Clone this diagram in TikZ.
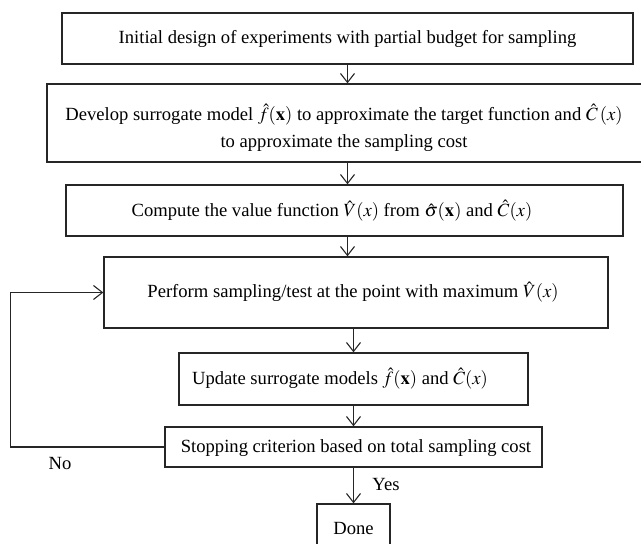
\documentclass[tikz,border=0pt]{standalone}
\usepackage{mathptmx}
\usepackage{fontspec}
\setmainfont{Liberation Serif}
\usetikzlibrary{arrows.meta}
\begin{document}
\begin{tikzpicture}[x=1pt,y=-1pt,
  box/.style 2 args={draw=black!85, line width=1.3pt, minimum width=#1, minimum height=#2, inner sep=0pt},
  txt/.style={font=\fontsize{18.6}{27}\selectfont, inner sep=0pt, align=center},
  arr/.style={draw=black!85, line width=1.1pt, -{Straight Barb[length=9pt,width=14pt,line width=1.1pt]}}
]
\useasboundingbox (0,0) rectangle (641,544);
\begin{scope}
\clip (0,0) rectangle (641,544);
\node[box={571pt}{51pt}] (b1) at (347.5,38.5) {};
\node[box={595pt}{78pt}] (b2) at (344.5,123) {};
\node[box={557pt}{51pt}] (b3) at (344.5,210.5) {};
\node[box={504pt}{71pt}] (b4) at (356,292.5) {};
\node[box={349pt}{52pt}] (b5) at (353.5,379) {};
\node[box={377pt}{40pt}] (b6) at (353.5,447) {};
\node[box={73pt}{48pt}] (b7) at (353.5,528) {};
\end{scope}

\node[txt] (t1) at (347.5,38.5) {Initial design of experiments with partial budget for sampling};
\node[txt] (t2) at (344,127.5) {Develop surrogate model $\hat{f}(\mathbf{x})$ to approximate the target function and $\hat{C}\,(x)$\\to approximate the sampling cost};
\node[txt] (t3) at (332,211) {Compute the value function $\hat{V}(x)$ from $\hat{\sigma}(\mathbf{x})$ and $\hat{C}(x)$};
\node[txt] (t4) at (353,292) {Perform sampling/test at the point with maximum $\hat{V}(x)$};
\node[txt] (t5) at (340,379) {Update surrogate models $\hat{f}(\mathbf{x})$ and $\hat{C}(x)$};
\node[txt] (t6) at (356,448) {Stopping criterion based on total sampling cost};
\node[txt] (t7) at (353.5,528) {Done};
\node[txt] (no) at (60,463) {No};
\node[txt] (yes) at (386,484) {Yes};

\draw[arr] (b1.south) -- (b1.south |- b2.north);
\draw[arr] (b1.south |- b2.south) -- (b1.south |- b3.north);
\draw[arr] (b1.south |- b3.south) -- (b1.south |- b4.north);
\draw[arr] (b5.north |- b4.south) -- (b5.north);
\draw[arr] (b5.south) -- (b6.north);
\draw[arr] (b6.south) -- (b7.north);
\draw[arr] (b6.west) -- ++(-154,0) |- (b4.west);
\end{tikzpicture}
\end{document}
